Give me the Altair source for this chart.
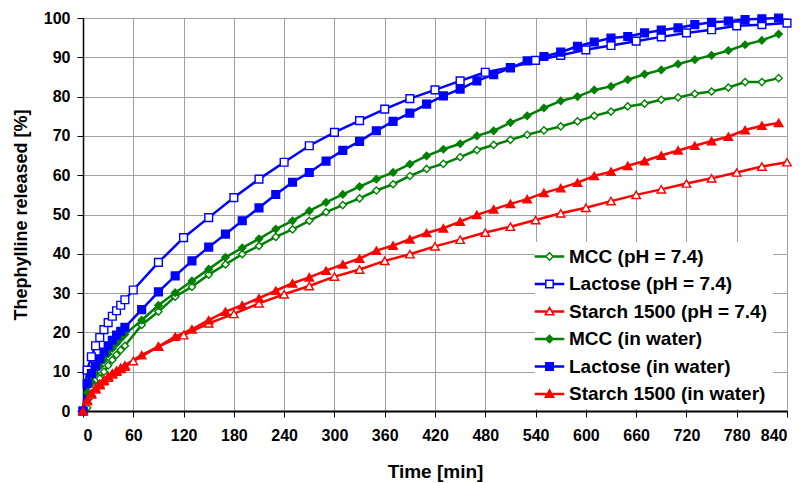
import altair as alt
import pandas as pd

series_names = ["MCC (pH = 7.4)", "Lactose (pH = 7.4)", "Starch 1500 (pH = 7.4)",
                "MCC (in water)", "Lactose (in water)", "Starch 1500 (in water)"]

# sampling times [min]
t_early = [0, 5, 10, 15, 20, 25, 30, 35, 40, 45, 50]
t_every20 = [70, 90, 110, 130, 150, 170, 190, 210, 230, 250, 270, 290, 310, 330, 350,
             370, 390, 410, 430, 450, 470, 490, 510, 530, 550, 570, 590, 610, 630, 650,
             670, 690, 710, 730, 750, 770, 790, 810, 830]
t_every30 = [60, 90, 120, 150, 180, 210, 240, 270, 300, 330, 360, 390, 420, 450, 480, 510,
             540, 570, 600, 630, 660, 690, 720, 750, 780, 810, 840]

time_mcc_ph = t_early + t_every20
time_lac_ph = t_early + t_every30
time_sta_ph = t_early + t_every30
time_mcc_w = t_early + t_every20
time_lac_w = t_early + t_every20
time_sta_w = t_early + t_every20

# released theophylline [%]
mcc_ph = [0, 0.8, 3.8, 6.3, 8.3, 10.0, 11.6, 13.0, 14.3, 15.5, 16.6,
          21.9, 25.3, 29.1, 31.6, 34.7, 37.3, 39.9, 42.0, 44.3, 46.2, 48.4, 50.6, 52.4,
          54.1, 56.1, 57.7, 59.8, 61.6, 62.9, 64.6, 66.4, 67.7, 69.0, 70.3, 71.4, 72.4,
          73.7, 75.1, 76.2, 77.5, 78.2, 79.2, 79.8, 80.7, 81.3, 82.3, 83.7, 83.7, 84.7]
lac_ph = [0, 10.4, 13.8, 16.6, 18.7, 20.7, 22.5, 24.1, 25.5, 26.9, 28.3,
          30.8, 37.8, 44.1, 49.2, 54.3, 59.0, 63.3, 67.5, 70.9, 73.9, 76.8, 79.5, 81.7,
          84.0, 86.2, 87.4, 89.2, 90.5, 91.9, 93.0, 94.1, 95.2, 96.2, 97.0, 98.0, 98.3, 98.7]
sta_ph = [0, 2.5, 4.2, 5.5, 6.6, 7.6, 8.5, 9.3, 10.0, 10.7, 11.3,
          12.7, 16.4, 19.3, 22.3, 24.7, 27.4, 29.7, 31.8, 34.2, 36.0, 38.2, 39.9, 41.9,
          43.6, 45.4, 46.9, 48.6, 50.3, 51.7, 53.4, 55.0, 56.4, 57.9, 59.2, 60.7, 62.2, 63.3]
mcc_w = [0, 4.7, 7.4, 9.6, 11.4, 13.0, 14.5, 15.9, 17.2, 18.4, 19.5,
         23.1, 26.9, 30.1, 33.1, 36.1, 39.1, 41.5, 43.8, 46.3, 48.4, 50.9, 53.1, 55.1,
         57.1, 59.0, 60.7, 62.8, 64.9, 66.6, 68.0, 70.0, 71.3, 73.4, 75.1, 77.1, 78.9,
         80.0, 81.7, 82.6, 84.3, 85.7, 86.8, 88.3, 89.4, 90.5, 91.7, 93.2, 94.3, 95.9]
lac_w = [0, 7.0, 9.5, 11.5, 13.3, 15.0, 16.6, 18.0, 19.3, 20.3, 21.3,
         25.8, 30.3, 34.4, 38.2, 41.7, 45.0, 48.4, 51.7, 55.1, 58.2, 60.7, 63.6, 66.3,
         68.6, 71.3, 73.7, 75.8, 78.1, 80.2, 81.9, 84.0, 85.6, 87.3, 89.1, 90.2, 91.3,
         92.8, 93.9, 94.9, 95.3, 96.2, 96.9, 97.5, 98.3, 98.9, 99.2, 99.6, 99.8, 100.0]
sta_w = [0, 2.8, 4.5, 5.8, 6.9, 7.9, 8.8, 9.6, 10.3, 11.0, 11.6,
         14.2, 16.4, 18.9, 20.8, 23.1, 25.3, 26.9, 28.7, 30.6, 32.5, 34.0, 35.7, 37.3,
         38.8, 40.8, 42.1, 43.7, 45.3, 46.5, 48.2, 49.9, 51.3, 52.7, 53.9, 55.5, 56.7,
         58.1, 59.8, 60.9, 62.4, 63.6, 65.0, 66.3, 67.5, 68.7, 69.8, 71.5, 72.6, 73.3]

x_ticks = [0, 60, 120, 180, 240, 300, 360, 420, 480, 540, 600, 660, 720, 780, 840]
y_ticks = [0, 10, 20, 30, 40, 50, 60, 70, 80, 90, 100]

# ---- styles (not data) ----
GREEN, BLUE, RED = "#008000", "#0000FF", "#FF0000"
stroke_col = dict(zip(series_names, [GREEN, BLUE, RED, GREEN, BLUE, RED]))
fill_col = dict(zip(series_names, ["white", "white", "white", GREEN, BLUE, RED]))
shape_of = dict(zip(series_names, ["diamond", "square", "triangle-up"] * 2))
size_of = {"diamond": 52, "square": 60, "triangle-up": 72}

line_part = "M-2.8,-0.1H-0.75V0.1H-2.8Z M0.75,-0.1H2.8V0.1H0.75Z "
legend_paths = [
    line_part + "M0,-0.75L0.75,0L0,0.75L-0.75,0Z",
    line_part + "M-0.75,-0.75H0.75V0.75H-0.75Z",
    line_part + "M0,-0.8L0.85,0.65H-0.85Z",
] * 2

all_t = [time_mcc_ph, time_lac_ph, time_sta_ph, time_mcc_w, time_lac_w, time_sta_w]
all_v = [mcc_ph, lac_ph, sta_ph, mcc_w, lac_w, sta_w]
rows = []
for name, ts, vs in zip(series_names, all_t, all_v):
    for t, v in zip(ts, vs):
        rows.append({"series": name, "time": t, "value": v,
                     "stroke": stroke_col[name], "fill": fill_col[name],
                     "shape": shape_of[name], "size": size_of[shape_of[name]]})
df = pd.DataFrame(rows)

FONT = "Liberation Sans"

x_enc = alt.X("time:Q", scale=alt.Scale(domain=[0, 840], nice=False),
              axis=alt.Axis(values=x_ticks, title="Time [min]", labelPadding=10,
                            titlePadding=19, titleFontSize=19, tickSize=6, domainWidth=2))
y_enc = alt.Y("value:Q", scale=alt.Scale(domain=[0, 100], nice=False),
              axis=alt.Axis(values=y_ticks, title="Thephylline released [%]",
                            labelPadding=7, titlePadding=13, titleFontSize=18, tickSize=6))

base = alt.Chart(df)

lines = base.mark_line(strokeWidth=2.5).encode(
    x=x_enc, y=y_enc,
    stroke=alt.Stroke("stroke:N", scale=None),
    detail="series:N",
)

points = base.mark_point(filled=True, opacity=1, strokeWidth=1.4).encode(
    x=x_enc, y=y_enc,
    shape=alt.Shape("shape:N", scale=None),
    fill=alt.Fill("fill:N", scale=None),
    stroke=alt.Stroke("stroke:N", scale=None),
    size=alt.Size("size:Q", scale=None),
)

leg = alt.Legend(
    title=None, orient="none", legendX=452, legendY=224,
    fillColor="white", padding=5, symbolSize=100, symbolStrokeWidth=1.5,
    symbolOpacity=1, labelOffset=10, rowPadding=7.5,
    labelFont=FONT, labelFontSize=19, labelFontWeight="bold", labelColor="black",
    labelLimit=0,
)

legend_layer = base.mark_point(filled=True, opacity=0).encode(
    x=x_enc, y=y_enc,
    shape=alt.Shape("series:N", scale=alt.Scale(domain=series_names, range=legend_paths), legend=leg),
    fill=alt.Fill("series:N", scale=alt.Scale(domain=series_names, range=[fill_col[s] for s in series_names]), legend=leg),
    stroke=alt.Stroke("series:N", scale=alt.Scale(domain=series_names, range=[stroke_col[s] for s in series_names]), legend=leg),
)

chart = alt.layer(lines, points, legend_layer).properties(
    width=704, height=393,
    autosize=alt.AutoSizeParams(type="none"),
    padding={"left": 83, "top": 18, "right": 15, "bottom": 72},
    background="white",
).configure_view(
    stroke="black", strokeWidth=1
).configure_axis(
    labelFont=FONT, labelFontSize=16, labelFontWeight="bold", labelColor="black",
    titleFont=FONT, titleFontWeight="bold", titleColor="black",
    gridColor="#a0a0a0", gridWidth=1, domainColor="black", domainWidth=1.5,
    tickColor="black", tickWidth=1,
)

chart.save("out.html", embed_options={"renderer": "svg", "actions": False})
